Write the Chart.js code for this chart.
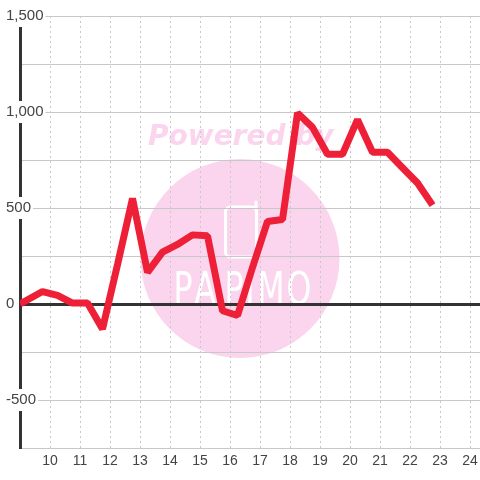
<!DOCTYPE html>
<html>
<head>
<meta charset="utf-8">
<style>
  html, body { margin: 0; padding: 0; background: #fff; }
  canvas { display: block; }
</style>
<script src="https://cdn.jsdelivr.net/npm/chart.js"></script>
</head>
<body>
<canvas id="grafico" width="480" height="480"></canvas>
<script>
const hours = [9, 9.75, 10.25, 10.75, 11.25, 11.75, 12.25, 12.75, 13.25, 13.75, 14.25, 14.75, 15.25, 15.75, 16.25, 16.75, 17.25, 17.75, 18.25, 18.75, 19.25, 19.75, 20.25, 20.75, 21.25, 21.75, 22.25, 22.75];
const values = [0, 65, 45, 5, 5, -130, 205, 550, 165, 270, 310, 360, 355, -35, -60, 190, 430, 440, 995, 920, 780, 780, 960, 790, 790, 710, 630, 515];
const hourTicks = [10, 11, 12, 13, 14, 15, 16, 17, 18, 19, 20, 21, 22, 23, 24];
const valueTicks = [-750, -500, -250, 0, 250, 500, 750, 1000, 1250, 1500];

const watermark = {
  id: 'watermark',
  beforeDraw(chart) {
    const c = chart.ctx;
    c.save();
    c.fillStyle = '#fbd5ee';
    c.beginPath();
    c.arc(240, 258.5, 99.5, 0, Math.PI * 2);
    c.fill();
    c.font = 'italic bold 28px "DejaVu Sans"';
    c.fillText('Powered by', 148, 145);
    // phone icon
    c.strokeStyle = '#fff';
    c.lineWidth = 3;
    c.lineCap = 'round';
    c.beginPath();
    c.roundRect(225.5, 207, 31, 50, 5);
    c.moveTo(256, 202);
    c.lineTo(256, 210);
    c.stroke();
    // logo letters, one by one because they are spaced out
    c.fillStyle = '#fff';
    c.textAlign = 'center';
    const letters = [['P', 183], ['A', 205], ['P', 234], ['I', 250], ['M', 271], ['O', 299]];
    letters.forEach(([l, x]) => {
      c.save();
      c.translate(x, 304);
      c.scale(0.72, 1);
      c.font = '44px "DejaVu Sans"';
      c.fillText(l, 0, 0);
      c.restore();
    });
    c.restore();
  }
};

new Chart(document.getElementById('grafico').getContext('2d'), {
  type: 'line',
  data: {
    datasets: [{
      data: hours.map((h, i) => ({ x: h, y: values[i] })),
      borderColor: '#ee2038',
      borderWidth: 7,
      borderJoinStyle: 'bevel',
      pointRadius: 0,
      tension: 0
    }]
  },
  options: {
    responsive: false,
    animation: false,
    layout: { padding: { top: 16 } },
    plugins: { legend: { display: false }, tooltip: { enabled: false } },
    scales: {
      x: {
        type: 'linear',
        min: 9,
        max: 24.333,
        afterBuildTicks: s => { s.ticks = hourTicks.map(v => ({ value: v })); },
        afterFit: s => { s.height = 32; s.paddingLeft = 0; s.paddingRight = 0; },
        border: { display: false, dash: [2, 3] },
        grid: { color: '#c8c8c8', drawTicks: false },
        ticks: { autoSkip: false, maxRotation: 0, padding: 5, color: '#444', font: { family: 'Liberation Sans', size: 14 } }
      },
      y: {
        min: -750,
        max: 1500,
        afterBuildTicks: s => { s.ticks = valueTicks.map(v => ({ value: v })); },
        afterFit: s => { s.width = 20; },
        border: { color: '#333', width: 3 },
        grid: {
          drawTicks: false,
          color: c => c.tick.value === 0 ? '#333' : '#c8c8c8',
          lineWidth: c => c.tick.value === 0 ? 3 : 1
        },
        ticks: {
          mirror: true,
          padding: -14,
          autoSkip: false,
          color: '#444',
          font: { family: 'Liberation Sans', size: 15 },
          showLabelBackdrop: c => c.tick.value % 500 === 0,
          backdropColor: '#fff',
          backdropPadding: 2,
          callback: v => v % 500 === 0 ? v.toLocaleString('en-US') : ''
        }
      }
    }
  },
  plugins: [watermark]
});
</script>
</body>
</html>
